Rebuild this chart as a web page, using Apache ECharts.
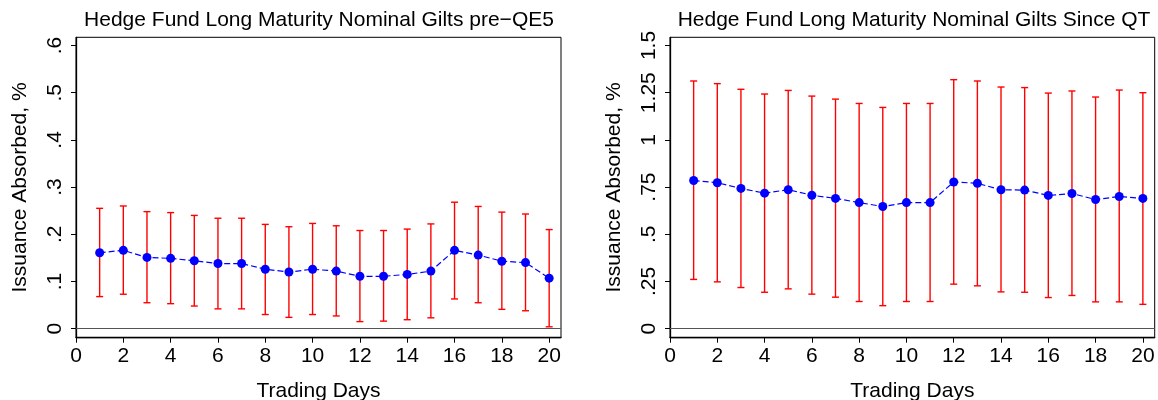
<!DOCTYPE html>
<html>
<head>
<meta charset="utf-8">
<script src="https://cdn.jsdelivr.net/npm/echarts@6/dist/echarts.min.js"></script>
<style>
html,body{margin:0;padding:0;background:#fff;}
#chart{width:1158px;height:400px;}
</style>
</head>
<body>
<div id="chart"></div>
<script>
const days = [1,2,3,4,5,6,7,8,9,10,11,12,13,14,15,16,17,18,19,20];

const preMean = [0.161,0.166,0.151,0.149,0.144,0.138,0.138,0.126,0.120,0.126,0.122,0.111,0.111,0.115,0.122,0.166,0.156,0.143,0.140,0.107];
const preHigh = [0.255,0.260,0.248,0.246,0.240,0.234,0.234,0.221,0.216,0.223,0.218,0.208,0.208,0.211,0.222,0.268,0.259,0.247,0.243,0.210];
const preLow  = [0.068,0.073,0.055,0.053,0.048,0.042,0.042,0.030,0.024,0.030,0.027,0.015,0.016,0.019,0.023,0.063,0.055,0.041,0.038,0.004];

const qtMean = [0.785,0.773,0.743,0.718,0.736,0.707,0.690,0.668,0.647,0.668,0.668,0.777,0.770,0.736,0.734,0.706,0.716,0.684,0.700,0.690];
const qtHigh = [1.312,1.298,1.268,1.243,1.262,1.232,1.216,1.193,1.172,1.193,1.193,1.319,1.312,1.280,1.277,1.248,1.259,1.227,1.264,1.250];
const qtLow  = [0.261,0.248,0.218,0.193,0.211,0.183,0.167,0.144,0.122,0.144,0.144,0.236,0.227,0.195,0.193,0.165,0.176,0.142,0.142,0.129];

const xTicks = [0,2,4,6,8,10,12,14,16,18,20];
const preYTicks = [0,0.1,0.2,0.3,0.4,0.5,0.6];
const qtYTicks = [0,0.25,0.5,0.75,1,1.25,1.5];

const titles = ['Hedge Fund Long Maturity Nominal Gilts pre\u2212QE5', 'Hedge Fund Long Maturity Nominal Gilts Since QT'];
const xName = 'Trading Days';
const yName = 'Issuance Absorbed, %';

const FONT = '"Liberation Sans", Arial, Helvetica, sans-serif';
const FS = 21;
const fmt = v => (Math.abs(v) < 1e-9 ? '0' : String(+v.toFixed(4)).replace(/^0\./, '.'));

function xAxisFor(gi) {
  return {
    type: 'value', gridIndex: gi, min: 0, max: 20.5,
    name: xName, nameLocation: 'middle', nameGap: 43,
    nameTextStyle: {fontFamily: FONT, fontSize: FS, color: '#000'},
    axisLine: {show: true, onZero: false, lineStyle: {color: '#000', width: 1.3}},
    axisTick: {show: true, length: 5, customValues: xTicks, lineStyle: {color: '#000', width: 1}},
    axisLabel: {customValues: xTicks, fontFamily: FONT, fontSize: FS, color: '#000', margin: 8, formatter: fmt},
    splitLine: {show: false}
  };
}
function yAxisFor(gi, min, max, ticks) {
  return {
    type: 'value', gridIndex: gi, min: min, max: max,
    name: yName, nameLocation: 'middle', nameGap: 45,
    nameTextStyle: {fontFamily: FONT, fontSize: FS, color: '#000'},
    axisLine: {show: true, onZero: false, lineStyle: {color: '#000', width: 1.3}},
    axisTick: {show: true, length: 5, customValues: ticks, lineStyle: {color: '#000', width: 1}},
    axisLabel: {customValues: ticks, rotate: 90, fontFamily: FONT, fontSize: FS, color: '#000', margin: 10, formatter: fmt},
    splitLine: {show: false}
  };
}

function errSeries(gi, low, high) {
  return {
    type: 'custom', xAxisIndex: gi, yAxisIndex: gi, z: 2,
    data: days.map((d, i) => [d, low[i], high[i]]),
    encode: {x: 0, y: [1, 2]},
    renderItem: function (params, api) {
      const x = api.value(0);
      const pLo = api.coord([x, api.value(1)]);
      const pHi = api.coord([x, api.value(2)]);
      const w = 3.5;
      const st = {stroke: '#ff0000', lineWidth: 1.4};
      return {type: 'group', children: [
        {type: 'line', shape: {x1: pHi[0], y1: pHi[1], x2: pLo[0], y2: pLo[1]}, style: st},
        {type: 'line', shape: {x1: pHi[0] - w, y1: pHi[1], x2: pHi[0] + w, y2: pHi[1]}, style: st},
        {type: 'line', shape: {x1: pLo[0] - w, y1: pLo[1], x2: pLo[0] + w, y2: pLo[1]}, style: st}
      ]};
    }
  };
}
function meanSeries(gi, mean) {
  return {
    type: 'line', xAxisIndex: gi, yAxisIndex: gi, z: 3,
    data: days.map((d, i) => [d, mean[i]]),
    symbol: 'circle', symbolSize: 9,
    itemStyle: {color: '#0000ff'},
    lineStyle: {color: '#0000ff', width: 1.2, type: [6, 3]},
    markLine: {
      silent: true, symbol: 'none', label: {show: false}, z: 1,
      lineStyle: {color: '#555555', width: 1, type: 'solid'},
      data: [{yAxis: 0}]
    }
  };
}

const gridBase = {top: 37.3, bottom: 62.3, show: true, borderColor: '#000', borderWidth: 1,
  backgroundColor: 'transparent', containLabel: false, outerBoundsMode: 'none'};

const chart = echarts.init(document.getElementById('chart'), null, {renderer: 'canvas'});
chart.setOption({
  animation: false,
  backgroundColor: '#fff',
  title: [
    {text: titles[0], left: 319, top: 10, textAlign: 'center', padding: 0,
     textStyle: {fontFamily: FONT, fontSize: FS, fontWeight: 'normal', color: '#000'}},
    {text: titles[1], left: 914, top: 10, textAlign: 'center', padding: 0,
     textStyle: {fontFamily: FONT, fontSize: FS, fontWeight: 'normal', color: '#000'}}
  ],
  grid: [
    Object.assign({left: 76, right: 597}, gridBase),
    Object.assign({left: 670, right: 3.3}, gridBase)
  ],
  xAxis: [xAxisFor(0), xAxisFor(1)],
  yAxis: [yAxisFor(0, -0.0191, 0.6174, preYTicks), yAxisFor(1, -0.0477, 1.5434, qtYTicks)],
  series: [
    errSeries(0, preLow, preHigh), meanSeries(0, preMean),
    errSeries(1, qtLow, qtHigh), meanSeries(1, qtMean)
  ]
});
</script>
</body>
</html>
